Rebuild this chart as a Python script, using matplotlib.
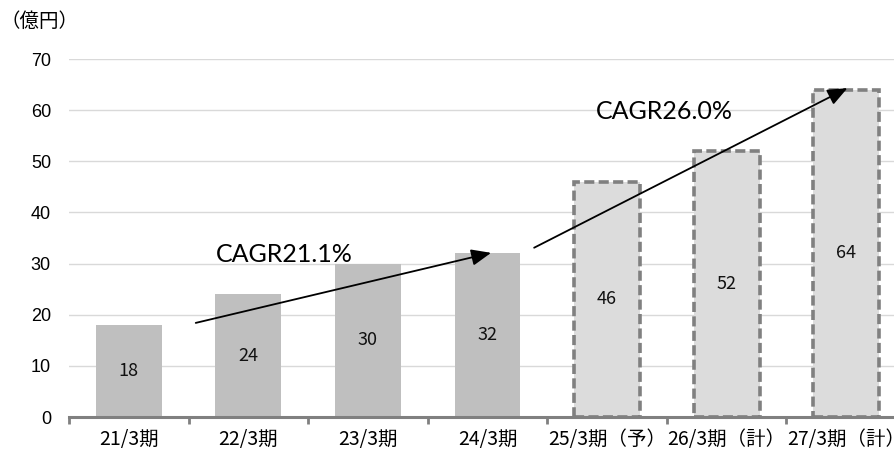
import numpy as np
import matplotlib.pyplot as plt
from matplotlib.patches import FancyArrowPatch

plt.rcParams['font.family'] = ['Noto Sans CJK JP', 'DejaVu Sans']

periods = ['21/3期', '22/3期', '23/3期', '24/3期', '25/3期（予）', '26/3期（計）', '27/3期（計）']
sales = [18, 24, 30, 32, 46, 52, 64]
is_plan = [False, False, False, False, True, True, True]

fig = plt.figure(figsize=(8.94, 4.55), dpi=100)
# axes run slightly past the right edge, so the last label is cut off
ax = fig.add_axes([69 / 894, 38 / 455, 837 / 894, 358 / 455])

x = np.arange(len(periods))
for xi, v, plan in zip(x, sales, is_plan):
    if plan:
        ax.bar(xi, v, width=0.55, color='#dcdcdc', edgecolor='#808080',
               linewidth=2.6, linestyle=(0, (2.8, 1.2)), zorder=2)
    else:
        ax.bar(xi, v, width=0.55, color='#bfbfbf', zorder=2)
    ax.text(xi, v / 2, str(v), ha='center', va='center', fontsize=13,
            color='#111111', zorder=3)

ax.set_xlim(-0.5, len(periods) - 0.5)
ax.set_ylim(0, 70)
ax.set_yticks(range(0, 71, 10))
ax.yaxis.grid(True, color='#d9d9d9', linewidth=1)
ax.set_axisbelow(True)

ax.set_xticks(x)
ax.set_xticklabels(periods, fontsize=14)
ax.set_xticks(np.arange(-0.5, len(periods)), minor=True)
ax.tick_params(axis='x', which='major', length=0, pad=9)
ax.tick_params(axis='x', which='minor', length=5, width=2, color='#808080')
ax.tick_params(axis='y', length=0, pad=13)
for lbl in ax.get_yticklabels():
    lbl.set_fontfamily(['Liberation Sans', 'DejaVu Sans'])
    lbl.set_fontsize(13)

for side in ['left', 'right', 'top']:
    ax.spines[side].set_visible(False)
ax.spines['bottom'].set_color('#808080')
ax.spines['bottom'].set_linewidth(2.2)

# growth arrows
for (x0, y0), (x1, y1) in [((0.56, 18.4), (3.03, 32.1)), ((3.39, 33.1), (6.01, 64.3))]:
    ax.add_patch(FancyArrowPatch((x0, y0), (x1, y1), arrowstyle='-|>,head_length=12,head_width=5',
                                 color='black', linewidth=1.3, shrinkA=0, shrinkB=0, zorder=4))

ax.text(0.73, 31.7, 'CAGR21.1%', fontsize=18, ha='left', va='center',
        family=['Lato', 'DejaVu Sans'], zorder=4)
ax.text(3.91, 59.7, 'CAGR26.0%', fontsize=18, ha='left', va='center',
        family=['Lato', 'DejaVu Sans'], zorder=4)

fig.text(0, 1 - 21 / 455, '（億円）', fontsize=14, ha='left', va='center')

fig.savefig('out.png', dpi=100)
